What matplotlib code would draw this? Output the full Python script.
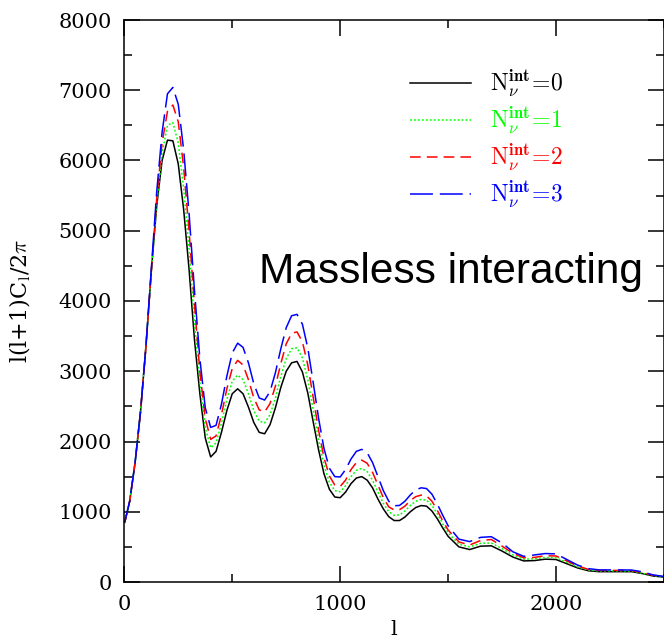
import numpy as np
import matplotlib
matplotlib.use('Agg')
import matplotlib.pyplot as plt
from matplotlib.ticker import MultipleLocator

# multipole grid and l(l+1)C_l/2pi
ell = [2, 25, 50, 75, 100, 125, 150, 175, 200, 225, 250, 275, 300, 325, 350, 375,
       400, 425, 450, 475, 500, 525, 550, 575, 600, 625, 650, 675, 700, 725, 750, 775,
       800, 825, 850, 875, 900, 925, 950, 975, 1000, 1025, 1050, 1075, 1100, 1125, 1150,
       1175, 1200, 1225, 1250, 1275, 1300, 1325, 1350, 1375, 1400, 1425, 1450, 1475, 1500,
       1550, 1600, 1650, 1700, 1750, 1800, 1850, 1900, 1950, 2000, 2050, 2100, 2150, 2200,
       2250, 2300, 2350, 2400, 2450, 2500]

cl_n0 = [850, 1150, 1700, 2420, 3350, 4420, 5350, 6000, 6290, 6280, 5950, 5300, 4450, 3450, 2680, 2050,
         1780, 1860, 2130, 2440, 2680, 2750, 2680, 2490, 2270, 2130, 2110, 2240, 2480, 2770, 3000, 3120,
         3140, 2990, 2690, 2280, 1880, 1540, 1320, 1210, 1200, 1280, 1400, 1480, 1500, 1450, 1340,
         1180, 1040, 930, 875, 875, 925, 1000, 1060, 1088, 1080, 1010, 900, 770, 650,
         500, 462, 510, 515, 440, 355, 300, 305, 325, 320, 260, 200, 160, 147,
         147, 147, 147, 120, 85, 70]

cl_n1 = [850, 1150, 1700, 2420, 3340, 4400, 5380, 6100, 6500, 6540, 6250, 5600, 4750, 3700, 2850, 2200,
         1910, 1980, 2260, 2600, 2860, 2945, 2880, 2680, 2440, 2290, 2265, 2380, 2620, 2930, 3180, 3320,
         3335, 3190, 2880, 2450, 2020, 1660, 1420, 1300, 1285, 1370, 1500, 1590, 1617, 1570, 1450,
         1280, 1120, 1000, 950, 955, 1010, 1090, 1150, 1176, 1165, 1090, 970, 830, 700,
         540, 500, 550, 555, 475, 385, 325, 330, 350, 345, 280, 215, 170, 158,
         158, 158, 155, 125, 90, 75]

cl_n2 = [850, 1150, 1700, 2420, 3340, 4420, 5450, 6250, 6700, 6790, 6550, 5900, 5000, 3950, 3000, 2330,
         2030, 2080, 2380, 2750, 3040, 3155, 3090, 2880, 2620, 2450, 2420, 2540, 2790, 3110, 3390, 3540,
         3560, 3420, 3090, 2630, 2160, 1770, 1510, 1380, 1360, 1450, 1600, 1700, 1735, 1690, 1560,
         1380, 1200, 1070, 1025, 1030, 1080, 1160, 1215, 1237, 1225, 1150, 1020, 870, 740,
         570, 527, 590, 605, 510, 410, 345, 350, 375, 370, 300, 228, 180, 165,
         165, 165, 162, 135, 95, 78]

cl_n3 = [850, 1150, 1700, 2420, 3340, 4450, 5550, 6400, 6950, 7040, 6800, 6150, 5250, 4150, 3180, 2480,
         2200, 2230, 2530, 2930, 3260, 3400, 3340, 3120, 2820, 2620, 2590, 2710, 2980, 3320, 3620, 3790,
         3810, 3670, 3330, 2840, 2330, 1900, 1620, 1500, 1495, 1600, 1750, 1860, 1888, 1840, 1700,
         1500, 1300, 1150, 1085, 1090, 1150, 1240, 1310, 1341, 1330, 1250, 1110, 950, 800,
         610, 575, 635, 645, 555, 430, 365, 385, 405, 400, 320, 240, 190, 172,
         172, 172, 170, 145, 100, 80]

labels = [r'$\mathrm{N}_\nu^{\mathbf{int}}\!=\!0$', r'$\mathrm{N}_\nu^{\mathbf{int}}\!=\!1$',
          r'$\mathrm{N}_\nu^{\mathbf{int}}\!=\!2$', r'$\mathrm{N}_\nu^{\mathbf{int}}\!=\!3$']

plt.rcParams['font.family'] = 'DejaVu Serif'
plt.rcParams['mathtext.fontset'] = 'cm'

fig = plt.figure(figsize=(6.64, 6.43), dpi=100)
ax = fig.add_axes([124.3 / 664, 1 - 582 / 643, 1 - 124.3 / 664, (582 - 20) / 643])

lw = 1.1
ax.plot(ell, cl_n0, color='black', lw=lw, ls='-', label=labels[0])
ax.plot(ell, cl_n1, color='#00ff00', lw=lw, ls=(0, (1.2, 1.4)), label=labels[1])
ax.plot(ell, cl_n2, color='#ff0000', lw=lw, ls=(0, (7, 4)), label=labels[2])
ax.plot(ell, cl_n3, color='#0000ff', lw=lw, ls=(0, (15, 4.5)), label=labels[3])

ax.set_xlim(0, 2500)
ax.set_ylim(0, 8000)
ax.xaxis.set_major_locator(MultipleLocator(1000))
ax.xaxis.set_minor_locator(MultipleLocator(500))
ax.yaxis.set_major_locator(MultipleLocator(1000))
ax.yaxis.set_minor_locator(MultipleLocator(500))
ax.tick_params(which='both', direction='in', top=True, right=True, width=1.1,
               labelsize=15, pad=9)
ax.tick_params(which='major', length=11.5)
ax.tick_params(which='minor', length=5.8)
for s in ax.spines.values():
    s.set_linewidth(1.1)

ax.set_xlabel('l', fontsize=15, labelpad=5)
ax.set_ylabel(r'l(l+1)C$_\mathrm{l}$/2$\pi$', fontsize=16, labelpad=18)

leg = ax.legend(loc='upper left', bbox_to_anchor=(410 / 664, 1 - 68 / 643),
                bbox_transform=fig.transFigure, frameon=False, fontsize=17,
                handlelength=2.6, handletextpad=0.8, labelspacing=0.25,
                borderpad=0, borderaxespad=0, labelcolor='linecolor')

fig.text(259 / 664, 1 - 283 / 643, 'Massless interacting', fontsize=30.5,
         family='Liberation Sans', va='baseline', ha='left')

fig.savefig('out.png', dpi=100)
